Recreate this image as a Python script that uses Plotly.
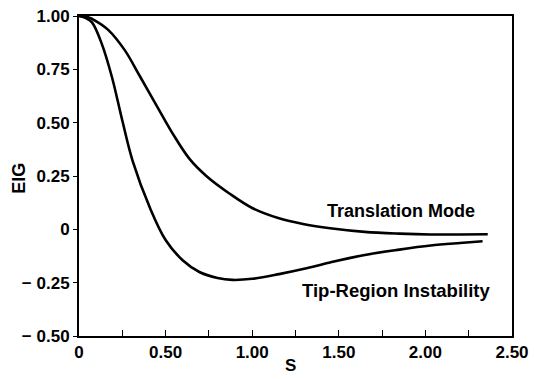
import plotly.graph_objects as go

# Translation Mode curve
s_trans = [0.0, 0.05, 0.1, 0.17, 0.264, 0.35, 0.448, 0.54, 0.638, 0.735, 0.868, 1.0, 1.15, 1.3, 1.45, 1.65, 1.85, 2.03, 2.2, 2.36]
eig_trans = [1.0, 0.995, 0.975, 0.934, 0.84, 0.72, 0.58, 0.45, 0.33, 0.25, 0.168, 0.1, 0.053, 0.024, 0.005, -0.012, -0.02, -0.024, -0.024, -0.023]

# Tip-Region Instability curve
s_tip = [0.0, 0.04, 0.075, 0.13, 0.19, 0.25, 0.31, 0.41, 0.5, 0.6, 0.695, 0.8, 0.885, 1.0, 1.155, 1.3, 1.45, 1.65, 1.85, 2.03, 2.2, 2.33]
eig_tip = [1.0, 0.99, 0.97, 0.873, 0.714, 0.51, 0.32, 0.10, -0.05, -0.146, -0.2, -0.228, -0.237, -0.232, -0.21, -0.185, -0.155, -0.12, -0.095, -0.076, -0.064, -0.056]

x_ticks = [0, 0.5, 1.0, 1.5, 2.0, 2.5]
x_labels = ["0", "0.50", "1.00", "1.50", "2.00", "2.50"]
y_ticks = [1.0, 0.75, 0.5, 0.25, 0, -0.25, -0.5]
y_labels = ["1.00", "0.75", "0.50", "0.25", "0", "\u2212 0.25", "\u2212 0.50"]

FAM = "Liberation Sans, Arial, sans-serif"

fig = go.Figure()
for xs, ys in [(s_trans, eig_trans), (s_tip, eig_tip)]:
    fig.add_trace(go.Scatter(x=xs, y=ys, mode="lines",
                             line=dict(color="black", width=2.6, shape="spline", smoothing=1.0),
                             showlegend=False, hoverinfo="skip"))

fig.add_annotation(x=1.86, y=0.085, text="<b>Translation Mode</b>", showarrow=False,
                   xanchor="center", yanchor="middle",
                   font=dict(family=FAM, size=18, color="black"))
fig.add_annotation(x=1.83, y=-0.285, text="<b>Tip-Region Instability</b>", showarrow=False,
                   xanchor="center", yanchor="middle",
                   font=dict(family=FAM, size=18.5, color="black"))
# axis titles
fig.add_annotation(xref="paper", yref="paper", x=-0.139, y=0.494, text="<b>EIG</b>",
                   xanchor="center", yanchor="middle",
                   textangle=-90, showarrow=False, font=dict(family=FAM, size=18, color="black"))
fig.add_annotation(xref="paper", yref="paper", x=0.488, y=-0.092, text="<b>S</b>",
                   xanchor="center", yanchor="middle",
                   showarrow=False, font=dict(family=FAM, size=17, color="black"))

fig.update_layout(
    width=534, height=379,
    margin=dict(l=79, r=22, t=16, b=43),
    paper_bgcolor="white", plot_bgcolor="white",
    font=dict(family=FAM, size=17, color="black"),
    xaxis=dict(range=[0, 2.5], tickvals=x_ticks, ticktext=["<b>%s</b>" % t for t in x_labels],
               ticks="inside", ticklen=6, tickwidth=1.2, tickcolor="black",
               tickfont=dict(size=17), automargin=False,
               minor=dict(dtick=0.25, tick0=0, ticks="inside", ticklen=6, tickwidth=1.2, tickcolor="black"),
               showline=True, linecolor="black", linewidth=2, mirror=True,
               showgrid=False, zeroline=False),
    yaxis=dict(range=[-0.5, 1.0], tickvals=y_ticks, ticktext=["<b>%s</b>" % t for t in y_labels],
               ticks="outside", ticklen=4, tickwidth=1.2, tickcolor="black",
               tickfont=dict(size=17), automargin=False,
               showline=True, linecolor="black", linewidth=2, mirror=True,
               showgrid=False, zeroline=False),
)

fig.write_html("out.html", config={"displayModeBar": False},
               post_script="document.body.style.margin='0';document.body.style.overflow='hidden';")
